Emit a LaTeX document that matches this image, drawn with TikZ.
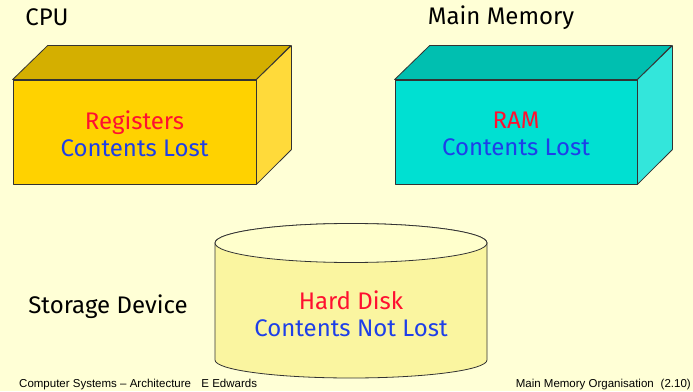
\documentclass[tikz,border=0pt]{standalone}
\usepackage{fontspec}
\setmainfont{Fira Sans}
\newfontfamily\footfont{Liberation Sans}
\definecolor{pagebg}{HTML}{FFFFD6}
\definecolor{cpufront}{HTML}{FFD200}
\definecolor{cputop}{HTML}{D4AF00}
\definecolor{cpuside}{HTML}{FFDA3A}
\definecolor{ramfront}{HTML}{00E0D2}
\definecolor{ramtop}{HTML}{00BFB0}
\definecolor{ramside}{HTML}{33E6DB}
\definecolor{diskside}{HTML}{FAF5A0}
\definecolor{disktop}{HTML}{FFFFCC}
\definecolor{namered}{HTML}{FF1030}
\definecolor{noteblue}{HTML}{1E3FE8}
\definecolor{edge}{HTML}{333333}
\tikzset{
  face/.style={draw=edge, line width=0.8pt, line join=round},
  frontface/.style={face, minimum width=#1, minimum height=104pt, inner sep=0pt},
  title/.style={font=\fontsize{24}{27}\selectfont, text=black},
  inside/.style={font=\fontsize{24}{27}\selectfont, align=center},
  foot/.style={font=\footfont\fontsize{11.5}{13}\selectfont, text=black}
}
\begin{document}
\begin{tikzpicture}[x=1pt,y=1pt]
\fill[pagebg] (0,0) rectangle (693,391);
\useasboundingbox (0,0) rectangle (693,391);

% CPU block
\node[frontface=243pt, fill=cpufront] (cpu) at (134.5,259) {};
\draw[face, fill=cputop] (cpu.north west) -- ++(35,34) -- ++(243,0) -- (cpu.north east) -- cycle;
\draw[face, fill=cpuside] (cpu.north east) -- ++(35,34) -- ++(0,-104) -- (cpu.south east) -- cycle;
\node[inside] (cputext) at ([yshift=-2pt]cpu.center) {\textcolor{namered}{Registers}\\\textcolor{noteblue}{Contents Lost}};
\node[title] (cpulabel) at (47,374) {CPU};

% Main memory block
\node[frontface=242pt, fill=ramfront] (ram) at (516,259) {};
\draw[face, fill=ramtop] (ram.north west) -- ++(35,34) -- ++(242,0) -- (ram.north east) -- cycle;
\draw[face, fill=ramside] (ram.north east) -- ++(35,34) -- ++(0,-104) -- (ram.south east) -- cycle;
\node[inside] (ramtext) at ([yshift=-2pt]ram.center) {\textcolor{namered}{RAM}\\\textcolor{noteblue}{Contents Lost}};
\node[title] (ramlabel) at (501,373) {Main Memory};

% Hard disk cylinder
\coordinate (disktopc) at (351,148);
\coordinate (diskbotc) at (351,31);
\draw[face, fill=diskside] (215,148) -- (215,31)
  arc[start angle=180, end angle=360, x radius=136, y radius=18] -- (487,148)
  arc[start angle=0, end angle=180, x radius=136, y radius=19.5] -- cycle;
\draw[face, fill=disktop] (disktopc) ellipse [x radius=136, y radius=19.5];
\node[inside] (disk) at (351,77) {\textcolor{namered}{Hard Disk}\\\textcolor{noteblue}{Contents Not Lost}};
\node[title] (disklabel) at (108,84) {Storage Device};

% Footer lines
\node[foot, anchor=base west, inner sep=0pt] (footl) at (19,4) {Computer Systems – Architecture\hspace{0.9em}E Edwards};
\node[foot, anchor=base east, inner sep=0pt] (footr) at (691,4) {Main Memory Organisation\hspace{0.6em}(2.10)};
\end{tikzpicture}
\end{document}
